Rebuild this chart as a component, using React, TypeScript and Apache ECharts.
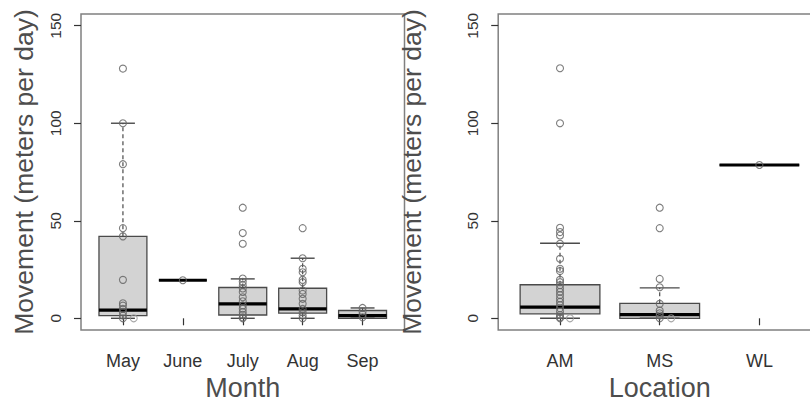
import React, { useEffect, useRef } from "react";
import * as echarts from "echarts";

const months = ["May", "June", "July", "Aug", "Sep"];
const locations = ["AM", "MS", "WL"];
const yTicks = [0, 50, 100, 150];

// box statistics per group: [lower whisker, Q1, median, Q3, upper whisker]
const monthBoxes = [
  [0, 1.4, 4.2, 42, 100],
  [19.5, 19.5, 19.5, 19.5, 19.5],
  [0, 1.7, 7.4, 15.8, 20.2],
  [0, 2.6, 4.8, 15.4, 30.8],
  [0, 0, 1.4, 4, 5.3],
];
const monthPoints = [
  [128, 100, 79, 46.2, 42, 19.7, 7.7, 6.5, 4.8, 3.1, 1.4, 0],
  [19.5],
  [56.7, 43.7, 38.2, 20.4, 18.7, 17, 15.3, 13.5, 10.8, 8.7, 6.6, 4.9, 3.2, 1.8, 0.5, 0],
  [46.2, 30.8, 25.4, 23.6, 19.7, 18.5, 14.2, 12.5, 10, 7.4, 4.8, 3.1, 1.4, 0],
  [5.3, 3.5, 2, 0.5],
];
const locationBoxes = [
  [0, 2.3, 5.7, 17.2, 38.5],
  [0, 0, 1.9, 7.7, 15.6],
  [78.6, 78.6, 78.6, 78.6, 78.6],
];
const locationPoints = [
  [128.2, 100, 46.4, 44.2, 42.5, 38.2, 30.5, 25.4, 24.2, 19.7, 18.5, 17, 15.3, 13.6, 11.9, 10.2, 8.5, 6.8, 5.1, 3.4, 1.7, 0.5, 0],
  [56.7, 46.2, 20.2, 15.9, 7.4, 4, 2.6, 1.4, 0],
  [78.6],
];
// stray points drawn beside a box: [group (1-based), horizontal offset, value]
const monthStray = [[1, 0.18, 0]];
const locationStray = [[1, 0.1, 0], [2, 0.115, 0]];

const FONT = "'Liberation Sans', Arial, sans-serif";
const GRID_LEFTS = [81, 498.2];

const renderBox = (params: any, api: any) => {
  const x = api.value(0);
  const lo = api.value(1);
  const q1 = api.value(2);
  const med = api.value(3);
  const q3 = api.value(4);
  const hi = api.value(5);
  const w = api.size([0.8, 0])[0];
  const sw = w / 2;
  const p = (v: number) => api.coord([x, v]);
  const [cx, yLo] = p(lo);
  const yQ1 = p(q1)[1];
  const yMed = p(med)[1];
  const yQ3 = p(q3)[1];
  const yHi = p(hi)[1];
  const dark = "#4a4a4a";
  return {
    type: "group",
    children: [
      {
        type: "rect",
        shape: { x: cx - w / 2, y: yQ3, width: w, height: yQ1 - yQ3 },
        style: { fill: "#d3d3d3", stroke: dark, lineWidth: 1.3 },
      },
      {
        type: "line",
        shape: { x1: cx, y1: yQ3, x2: cx, y2: yHi },
        style: { stroke: dark, lineWidth: 1.2, lineDash: [4, 3] },
      },
      {
        type: "line",
        shape: { x1: cx, y1: yQ1, x2: cx, y2: yLo },
        style: { stroke: dark, lineWidth: 1.2, lineDash: [4, 3] },
      },
      {
        type: "line",
        shape: { x1: cx - sw / 2, y1: yHi, x2: cx + sw / 2, y2: yHi },
        style: { stroke: dark, lineWidth: 1.4 },
      },
      {
        type: "line",
        shape: { x1: cx - sw / 2, y1: yLo, x2: cx + sw / 2, y2: yLo },
        style: { stroke: dark, lineWidth: 1.4 },
      },
      {
        type: "line",
        shape: { x1: cx - w / 2, y1: yMed, x2: cx + w / 2, y2: yMed },
        style: { stroke: "#000", lineWidth: 3.2 },
      },
    ],
  };
};

const boxData = (boxes: number[][]) => boxes.map((b, i) => [i + 1, ...b]);
const pointData = (pts: number[][]) => {
  const out: number[][] = [];
  pts.forEach((arr, i) => arr.forEach((v) => out.push([i + 1, v])));
  return out;
};
const strayData = (s: number[][]) => s.map(([g, off, v]) => [g + off, v]);

const pointStyle = {
  color: "rgba(0,0,0,0)",
  borderColor: "#666",
  borderWidth: 1.1,
  opacity: 0.85,
};

const makeX = (gridIndex: number, labels: string[], min: number, max: number, name: string) => {
  const vals = labels.map((_, i) => i + 1);
  return {
    gridIndex,
    type: "value",
    min,
    max,
    splitLine: { show: false },
    axisLine: { show: false },
    axisTick: { show: true, length: 7, customValues: vals, lineStyle: { color: "#333", width: 1.2 } },
    axisLabel: {
      customValues: vals,
      formatter: (v: number) => labels[Math.round(v) - 1] ?? "",
      fontSize: 18,
      color: "#333",
      margin: 22,
      fontFamily: FONT,
    },
    name,
    nameLocation: "middle",
    nameGap: 44,
    nameMoveOverlap: false,
    nameTextStyle: { fontSize: 27, color: "#4d4d4d", fontFamily: FONT },
  };
};

const makeY = (gridIndex: number, nameGap: number) => ({
  gridIndex,
  type: "value",
  min: -6,
  max: 156,
  splitLine: { show: false },
  axisLine: { show: false },
  axisTick: { show: true, length: 7, customValues: yTicks, lineStyle: { color: "#333", width: 1.2 } },
  axisLabel: { show: false },
  name: "Movement (meters per day)",
  nameLocation: "middle",
  nameRotate: 90,
  nameGap,
  nameMoveOverlap: false,
  nameTextStyle: { fontSize: 26.5, color: "#4d4d4d", fontFamily: FONT },
});

const gridBase = {
  top: 14,
  height: 316,
  show: true,
  borderColor: "#808080",
  borderWidth: 1.5,
  backgroundColor: "transparent",
  containLabel: false,
  outerBoundsMode: "none",
};

export default function App() {
  const ref = useRef<HTMLDivElement>(null);
  useEffect(() => {
    if (!ref.current) return;
    const chart = echarts.init(ref.current, undefined, { renderer: "svg" });
    const option: any = {
      animation: false,
      backgroundColor: "#fff",
      grid: [
        { ...gridBase, left: GRID_LEFTS[0], width: 323.5 },
        { ...gridBase, left: GRID_LEFTS[1], width: 323 },
      ],
      xAxis: [
        makeX(0, months, 0.3, 5.7, "Month"),
        makeX(1, locations, 0.38, 3.62, "Location"),
      ],
      yAxis: [makeY(0, 44), makeY(1, 73)],
      series: [
        {
          type: "custom",
          xAxisIndex: 0,
          yAxisIndex: 0,
          renderItem: renderBox,
          encode: { x: 0, y: [1, 2, 3, 4, 5] },
          data: boxData(monthBoxes),
          silent: true,
        },
        {
          type: "custom",
          xAxisIndex: 1,
          yAxisIndex: 1,
          renderItem: renderBox,
          encode: { x: 0, y: [1, 2, 3, 4, 5] },
          data: boxData(locationBoxes),
          silent: true,
        },
        {
          type: "scatter",
          xAxisIndex: 0,
          yAxisIndex: 0,
          symbol: "circle",
          symbolSize: 7,
          itemStyle: pointStyle,
          data: pointData(monthPoints),
          silent: true,
        },
        {
          type: "scatter",
          xAxisIndex: 1,
          yAxisIndex: 1,
          symbol: "circle",
          symbolSize: 7,
          itemStyle: pointStyle,
          data: pointData(locationPoints),
          silent: true,
        },
        {
          type: "scatter",
          xAxisIndex: 0,
          yAxisIndex: 0,
          symbol: "circle",
          symbolSize: 7,
          itemStyle: { ...pointStyle, borderColor: "#999" },
          data: strayData(monthStray),
          silent: true,
        },
        {
          type: "scatter",
          xAxisIndex: 1,
          yAxisIndex: 1,
          symbol: "circle",
          symbolSize: 7,
          itemStyle: { ...pointStyle, borderColor: "#999" },
          data: strayData(locationStray),
          silent: true,
        },
      ],
    };
    chart.setOption(option);

    // rotated y tick labels, positioned through the axis scale
    const labels: any[] = [];
    [0, 1].forEach((ai) => {
      yTicks.forEach((t) => {
        const py = chart.convertToPixel({ yAxisIndex: ai } as any, t) as number;
        labels.push({
          type: "text",
          x: GRID_LEFTS[ai] - 26,
          y: py,
          rotation: Math.PI / 2,
          silent: true,
          style: {
            text: String(t),
            fontSize: 15.5,
            fontFamily: FONT,
            fill: "#333",
            align: "center",
            verticalAlign: "middle",
          },
        });
      });
    });
    chart.setOption({ graphic: labels });
    return () => chart.dispose();
  }, []);
  return (
    <div
      ref={ref}
      style={{ position: "fixed", left: 0, top: 0, width: 810, height: 404 }}
    />
  );
}
